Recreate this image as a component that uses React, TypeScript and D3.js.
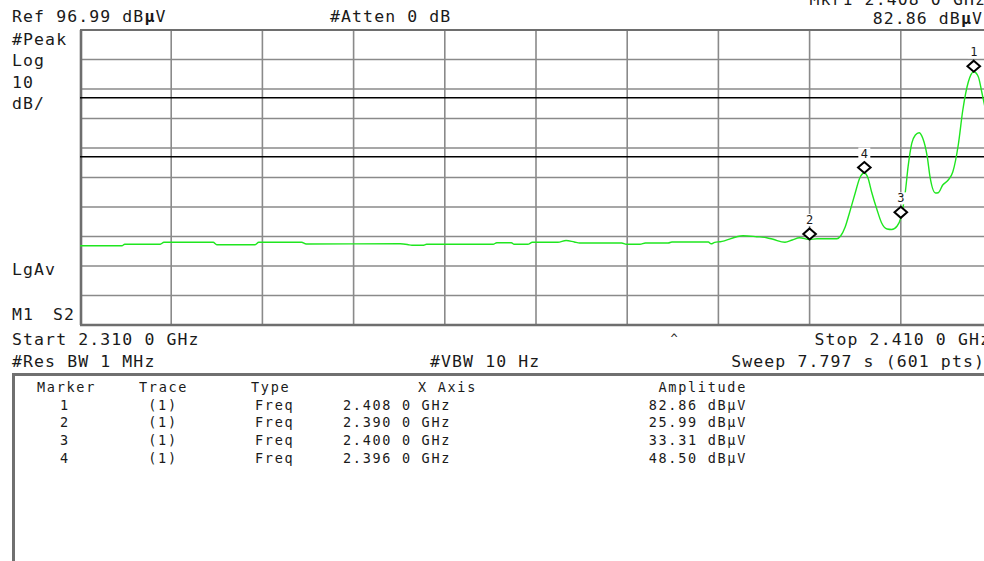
import React from 'react';
import * as d3 from 'd3';

// ---- Data ----
const startGHz = 2.31;
const stopGHz = 2.41;
const refLevel = 96.99;
const dbPerDiv = 10;
const divisions = 10;

const traceFreqGHz = [
  2.3100, 2.3146, 2.3149, 2.3188, 2.3192, 2.3246, 2.3250, 2.3292, 2.3296, 2.3343,
  2.3348, 2.3451, 2.3459, 2.3464, 2.3476, 2.3480, 2.3553, 2.3557, 2.3573, 2.3576,
  2.3591, 2.3596, 2.3624, 2.3633, 2.3642, 2.3648, 2.3694, 2.3699, 2.3714, 2.3720,
  2.3745, 2.3749, 2.3789, 2.3792, 2.3796, 2.3802, 2.3827, 2.3842, 2.3853, 2.3860,
  2.3873, 2.3881, 2.3889, 2.3900, 2.3908, 2.3930, 2.3934, 2.3939, 2.3944, 2.3950,
  2.3955, 2.3960, 2.3964, 2.3968, 2.3974, 2.3979, 2.3985, 2.3990, 2.3996, 2.4000,
  2.4005, 2.4008, 2.4012, 2.4016, 2.4020, 2.4024, 2.4029, 2.4032, 2.4038, 2.4041,
  2.4046, 2.4052, 2.4057, 2.4063, 2.4068, 2.4074, 2.4080, 2.4085, 2.4089, 2.4093,
  2.4100,
];
const traceAmpDbuV = [
  23.87, 23.87, 24.35, 24.35, 25.02, 25.02, 24.21, 24.21, 25.02, 25.02,
  24.45, 24.52, 24.28, 24.01, 24.01, 24.35, 24.35, 24.89, 24.89, 24.35,
  24.35, 25.02, 25.02, 25.63, 25.13, 24.79, 24.79, 24.35, 24.35, 24.79,
  24.79, 25.13, 25.13, 24.52, 25.02, 25.23, 27.26, 26.92, 26.58, 26.04,
  25.02, 25.80, 26.58, 25.99, 26.24, 26.24, 27.16, 30.20, 35.30, 41.74,
  46.82, 48.50, 46.82, 42.07, 35.97, 31.57, 29.53, 29.36, 30.55, 33.31,
  42.18, 50.65, 58.58, 61.40, 62.18, 60.38, 54.04, 47.26, 41.74, 41.84,
  44.45, 46.14, 48.85, 58.01, 69.87, 79.36, 82.86, 81.16, 75.63, 69.87,
  61.40,
];

const markerIds = ['1', '2', '3', '4'];
const markerTrace = ['(1)', '(1)', '(1)', '(1)'];
const markerType = ['Freq', 'Freq', 'Freq', 'Freq'];
const markerFreqGHz = [2.408, 2.39, 2.4, 2.396];
const markerFreqText = ['2.408 0 GHz', '2.390 0 GHz', '2.400 0 GHz', '2.396 0 GHz'];
const markerAmpDbuV = [82.86, 25.99, 33.31, 48.5];
const markerAmpText = ['82.86 dBμV', '25.99 dBμV', '33.31 dBμV', '48.50 dBμV'];

const limitLinesDbuV = [74, 54];

const leftLabels = ['#Peak', 'Log', '10', 'dB/'];

// ---- Layout ----
const W = 984;
const H = 561;
const plotLeft = 80;
const plotRight = 992;
const plotTop = 30;
const plotBottom = 325;

const FONT = "'DejaVu Sans Mono', 'Liberation Mono', monospace";
const TEXT = '#1a1a1a';
const GRID = '#8a8a8a';
const GREEN = '#1fe61f';

export default function App() {
  const x = d3.scaleLinear().domain([startGHz, stopGHz]).range([plotLeft, plotRight]);
  const y = d3
    .scaleLinear()
    .domain([refLevel - dbPerDiv * divisions, refLevel])
    .range([plotBottom, plotTop]);

  const pts: [number, number][] = traceFreqGHz.map((f, i) => [f, traceAmpDbuV[i]]);
  const line = d3
    .line<[number, number]>()
    .x((d) => x(d[0]))
    .y((d) => y(d[1]))
    .curve(d3.curveMonotoneX);

  const vGrid = d3.range(1, divisions).map((i) => startGHz + (i * (stopGHz - startGHz)) / divisions);
  const hGrid = d3.range(1, divisions).map((i) => refLevel - i * dbPerDiv);

  const hdr = { fontFamily: FONT, fontSize: 16.5, letterSpacing: 1.1, fill: TEXT } as const;
  const tbl = { fontFamily: FONT, fontSize: 13.5, letterSpacing: 1.7, fill: TEXT } as const;

  const rowBase = [409.5, 427.3, 445, 463];

  return (
    <svg
      width={W}
      height={H}
      style={{ position: 'absolute', left: 0, top: 0, background: '#fff' }}
    >
      <rect x={0} y={0} width={W} height={H} fill="#fff" />

      {/* grid */}
      {vGrid.map((f, i) => (
        <line key={'v' + i} x1={x(f)} x2={x(f)} y1={plotTop} y2={plotBottom} stroke={GRID} strokeWidth={1.6} />
      ))}
      {hGrid.map((v, i) => (
        <line key={'h' + i} x1={plotLeft} x2={plotRight} y1={y(v)} y2={y(v)} stroke={GRID} strokeWidth={1.6} />
      ))}
      {/* border */}
      <line x1={plotLeft} x2={plotRight} y1={plotTop} y2={plotTop} stroke="#6e6e6e" strokeWidth={2.2} />
      <line x1={plotLeft} x2={plotRight} y1={plotBottom} y2={plotBottom} stroke="#6e6e6e" strokeWidth={2.6} />
      <line x1={plotLeft + 1} x2={plotLeft + 1} y1={plotTop} y2={plotBottom} stroke="#6e6e6e" strokeWidth={2.6} />

      {/* limit lines */}
      {limitLinesDbuV.map((v, i) => (
        <line key={'l' + i} x1={plotLeft} x2={plotRight} y1={y(v)} y2={y(v)} stroke="#000" strokeWidth={1.5} />
      ))}

      {/* trace */}
      <path d={line(pts) || ''} fill="none" stroke={GREEN} strokeWidth={1.4} />

      {/* markers */}
      {markerIds.map((id, i) => {
        const cx = x(markerFreqGHz[i]);
        const cy = y(markerAmpDbuV[i]) - 5.5;
        const d = `M${cx},${cy - 5.5}L${cx + 6.3},${cy}L${cx},${cy + 5.5}L${cx - 6.3},${cy}Z`;
        return (
          <g key={'m' + id}>
            <path d={d} fill="#fff" stroke="#000" strokeWidth={2} />
            <rect x={cx - 6} y={cy - 20} width={12} height={12} fill="#fff" />
            <text x={cx} y={cy - 10} textAnchor="middle" fontFamily={FONT} fontSize={12} fill={TEXT}>
              {id}
            </text>
          </g>
        );
      })}

      {/* header text */}
      <text x={986} y={5} textAnchor="end" {...hdr}>Mkr1 2.408 0 GHz</text>
      <text x={12} y={22} {...hdr}>
        Ref 96.99 dB<tspan fontWeight="bold">μ</tspan>V
      </text>
      <text x={330} y={22} {...hdr}>#Atten 0 dB</text>
      <text x={983} y={24} textAnchor="end" {...hdr}>
        82.86 dB<tspan fontWeight="bold">μ</tspan>V
      </text>

      {leftLabels.map((t, i) => (
        <text key={'ll' + i} x={12} y={45 + i * 21.3} {...hdr}>{t}</text>
      ))}
      <text x={12} y={275} {...hdr}>LgAv</text>
      <text x={12} y={320} {...hdr}>
        M1<tspan x={53}>S2</tspan>
      </text>

      <text x={12} y={345} {...hdr}>Start 2.310 0 GHz</text>
      <text x={991} y={345} textAnchor="end" {...hdr}>Stop 2.410 0 GHz</text>
      <text x={674} y={343} textAnchor="middle" fontFamily={FONT} fontSize={12} fill={TEXT}>^</text>
      <text x={12} y={367} {...hdr}>#Res BW 1 MHz</text>
      <text x={430} y={367} {...hdr}>#VBW 10 Hz</text>
      <text x={985} y={367} textAnchor="end" {...hdr}>Sweep 7.797 s (601 pts)</text>

      {/* table frame */}
      <line x1={12} x2={W} y1={374.5} y2={374.5} stroke="#707070" strokeWidth={3} />
      <line x1={13.5} x2={13.5} y1={373} y2={H} stroke="#707070" strokeWidth={3} />

      {/* table */}
      <text x={37} y={391.5} {...tbl}>Marker</text>
      <text x={139} y={391.5} {...tbl}>Trace</text>
      <text x={251} y={391.5} {...tbl}>Type</text>
      <text x={418} y={391.5} {...tbl}>X Axis</text>
      <text x={747} y={391.5} textAnchor="end" {...tbl}>Amplitude</text>
      {markerIds.map((id, i) => (
        <g key={'r' + id}>
          <text x={65} y={rowBase[i]} textAnchor="middle" {...tbl}>{id}</text>
          <text x={163} y={rowBase[i]} textAnchor="middle" {...tbl}>{markerTrace[i]}</text>
          <text x={255} y={rowBase[i]} {...tbl}>{markerType[i]}</text>
          <text x={343} y={rowBase[i]} {...tbl}>{markerFreqText[i]}</text>
          <text x={747} y={rowBase[i]} textAnchor="end" {...tbl}>{markerAmpText[i]}</text>
        </g>
      ))}
    </svg>
  );
}
